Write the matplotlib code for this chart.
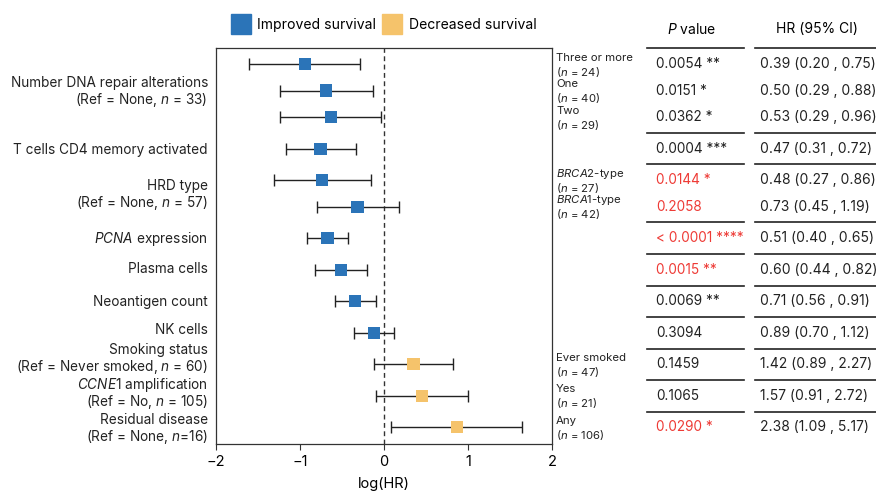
import numpy as np
import matplotlib
matplotlib.use("Agg")
import matplotlib.pyplot as plt
import matplotlib.transforms as mtrans
from matplotlib.lines import Line2D

plt.rcParams['font.family'] = ['Inter', 'DejaVu Sans']
plt.rcParams['mathtext.fontset'] = 'custom'
plt.rcParams['mathtext.rm'] = 'Inter'
plt.rcParams['mathtext.it'] = 'Inter:italic'
plt.rcParams['axes.unicode_minus'] = True

# data (one row per estimate, top to bottom)
hr = [0.39, 0.50, 0.53, 0.47, 0.48, 0.73, 0.51, 0.60, 0.71, 0.89, 1.42, 1.57, 2.38]
hr_lo = [0.20, 0.29, 0.29, 0.31, 0.27, 0.45, 0.40, 0.44, 0.56, 0.70, 0.89, 0.91, 1.09]
hr_hi = [0.75, 0.88, 0.96, 0.72, 0.86, 1.19, 0.65, 0.82, 0.91, 1.12, 2.27, 2.72, 5.17]
pvals = ["0.0054 **", "0.0151 *", "0.0362 *", "0.0004 ***", "0.0144 *", "0.2058",
         "< 0.0001 ****", "0.0015 **", "0.0069 **", "0.3094", "0.1459", "0.1065", "0.0290 *"]
p_red = [False, False, False, False, True, True, True, True, False, False, False, False, True]
# rows per variable group
group_sizes = [3, 1, 2, 1, 1, 1, 1, 1, 1, 1]
sublabels = {0: ["Three or more", "($\\it{n}$ = 24)"], 1: ["One", "($\\it{n}$ = 40)"],
             2: ["Two", "($\\it{n}$ = 29)"],
             4: ["$\\it{BRCA2}$-type", "($\\it{n}$ = 27)"], 5: ["$\\it{BRCA1}$-type", "($\\it{n}$ = 42)"],
             10: ["Ever smoked", "($\\it{n}$ = 47)"], 11: ["Yes", "($\\it{n}$ = 21)"],
             12: ["Any", "($\\it{n}$ = 106)"]}
group_labels = [["Number DNA repair alterations", "(Ref = None, $\\it{n}$ = 33)"],
                ["T cells CD4 memory activated"],
                ["HRD type", "(Ref = None, $\\it{n}$ = 57)"],
                ["$\\it{PCNA}$ expression"],
                ["Plasma cells"],
                ["Neoantigen count"],
                ["NK cells"],
                ["Smoking status", "(Ref = Never smoked, $\\it{n}$ = 60)"],
                ["$\\it{CCNE1}$ amplification", "(Ref = No, $\\it{n}$ = 105)"],
                ["Residual disease", "(Ref = None, $\\it{n}$=16)"]]
label_shift = [0, 0, 0, 0, -0.05, 0, -0.12, -0.2, -0.1, 0]

blue = '#2B74B8'
orange = '#F5C36B'
red = '#EE3B36'
dark = '#222222'

# row positions: tighter inside a group
inner, outer = 0.83, 0.985
ypos = []
group_mid = []
group_sep = []
cur = 0.0
for g, n in enumerate(group_sizes):
    if g > 0:
        group_sep.append(cur + outer / 2)
        cur += outer
    rows = [cur + k * inner for k in range(n)]
    ypos += rows
    group_mid.append(np.mean(rows))
    cur = rows[-1]
ypos = np.array(ypos)

W, H = 876, 492
PX = 32.0  # pixels per y unit
fig = plt.figure(figsize=(W / 100, H / 100), dpi=100)
rect = [216 / W, 1 - 444 / H, 336 / W, 396 / H]
ax = fig.add_axes(rect)

lhr = np.log(hr)
llo = np.log(hr_lo)
lhi = np.log(hr_hi)
cols = [blue if v < 1 else orange for v in hr]

ax.errorbar(lhr, ypos, xerr=[lhr - llo, lhi - lhr], fmt='none', ecolor=dark,
            elinewidth=1.0, capsize=4, capthick=1.0, zorder=2)
ax.scatter(lhr, ypos, marker='s', s=78, c=cols, linewidths=0, zorder=3)
ax.axvline(0, color='#333333', ls=(0, (3.5, 2.5)), lw=1.0, zorder=1)

ax.set_xlim(-2, 2)
ax.set_ylim(11.875, -0.5)
ax.set_yticks([])
ax.set_xticks([-2, -1, 0, 1, 2])
ax.tick_params(axis='x', labelsize=10.5, length=4, width=0.8, color='#333333', pad=4)
ax.set_xlabel("log(HR)", fontsize=10.5, labelpad=6)
for s in ax.spines.values():
    s.set_linewidth(0.9)
    s.set_color('#333333')

tr = mtrans.blended_transform_factory(ax.transAxes, ax.transData)


def put_lines(x, yc, lines, dy, size, **kw):
    # baseline placement so plain and math lines sit alike
    b = 0.36 * size * 100 / 72 / PX
    if len(lines) == 1:
        offs = [0]
    else:
        offs = [-dy, dy]
    for o, s in zip(offs, lines):
        ax.text(x, yc + o + b, s, transform=tr, va='baseline', fontsize=size, **kw)


for g, lab in enumerate(group_labels):
    put_lines(-0.024, group_mid[g] + label_shift[g], lab, 0.27, 9.8, ha='right', color=dark)
for i, lab in sublabels.items():
    put_lines(1.012, ypos[i], lab, 0.235, 8.2, ha='left', color=dark)

# table columns
tab = fig.add_axes([640 / W, rect[1], 236 / W, rect[3]])
tab.set_xlim(0, 236)
tab.set_ylim(ax.get_ylim())
tab.axis('off')
for i, yy in enumerate(ypos):
    tab.text(16, yy, pvals[i], ha='left', va='center', fontsize=9.8,
             color=red if p_red[i] else dark)
    tab.text(120, yy, "%.2f (%.2f , %.2f)" % (hr[i], hr_lo[i], hr_hi[i]),
             ha='left', va='center', fontsize=10, color=dark)
for yl in [-0.5] + group_sep:
    tab.plot([7, 104], [yl, yl], color=dark, lw=1.2, clip_on=False)
    tab.plot([115, 236], [yl, yl], color=dark, lw=1.2, clip_on=False)

fig.text(692 / W, 1 - 29 / H, "$\\it{P}$ value", ha='center', va='center', fontsize=10)
fig.text(817 / W, 1 - 29 / H, "HR (95% CI)", ha='center', va='center', fontsize=10)

handles = [Line2D([], [], ls='none', marker='s', markersize=14.5, color=blue),
           Line2D([], [], ls='none', marker='s', markersize=14.5, color=orange)]
fig.legend(handles, ["Improved survival", "Decreased survival"], loc='center',
           bbox_to_anchor=(384 / W, 1 - 25 / H), ncol=2, frameon=False, fontsize=10.1,
           handletextpad=0.55, columnspacing=0.45, handlelength=1.3)

fig.savefig("out.png", dpi=100)
